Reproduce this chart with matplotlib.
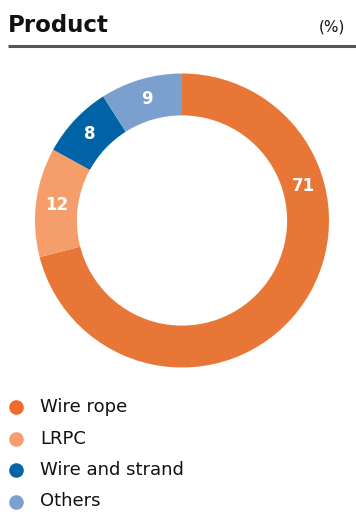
import matplotlib
matplotlib.use("Agg")
import matplotlib.pyplot as plt
import numpy as np

plt.rcParams["font.family"] = ["DejaVu Sans"]

# product mix, % of total
categorias = ["Wire rope", "LRPC", "Wire and strand", "Others"]
valores = [71, 12, 8, 9]
cores_anel = ["#E87737", "#F59E6C", "#0063A6", "#7BA0CE"]
cores_legenda = ["#F26A2E", "#F89D6F", "#0563A8", "#7BA0CE"]

W, H = 356, 514
fig = plt.figure(figsize=(W / 100, H / 100), dpi=100)

# camada em pixels para título, régua e legenda
base = fig.add_axes([0, 0, 1, 1])
base.set_xlim(0, W)
base.set_ylim(H, 0)
base.axis("off")

base.text(8, 32, "Product", fontsize=16.5, fontweight="bold", color="#111111",
          va="baseline", ha="left")
base.text(345, 32, "(%)", fontsize=11, color="#111111", va="baseline", ha="right")
base.plot([8, W], [46, 46], color="#555555", lw=2.2, solid_capstyle="butt")

# anel
cx, cy, R = 182, 220.5, 147
ax = fig.add_axes([(cx - R) / W, (H - cy - R) / H, 2 * R / W, 2 * R / H])
frac_furo = 0.715
wedges, _ = ax.pie(valores, colors=cores_anel, startangle=90, counterclock=False,
                   radius=1, wedgeprops=dict(width=1 - frac_furo, linewidth=0))
ax.set_xlim(-1, 1)
ax.set_ylim(-1, 1)
ax.set_aspect("equal")
ax.axis("off")

# rótulos no meio da faixa; o maior vai deslocado para cima
desloca = {0: 16}
r_rot = (1 + frac_furo) / 2
for i, (w, v) in enumerate(zip(wedges, valores)):
    ang = desloca.get(i, (w.theta1 + w.theta2) / 2)
    x = r_rot * np.cos(np.radians(ang))
    y = r_rot * np.sin(np.radians(ang))
    ax.text(x, y, str(v), color="white", fontsize=12, fontweight="bold",
            ha="center", va="center")

# legenda
y0, passo = 407, 31.5
for k, (nome, cor) in enumerate(zip(categorias, cores_legenda)):
    y = y0 + k * passo
    base.plot(16, y, "o", ms=10.5, color=cor, mec="none")
    base.text(40, y, nome, fontsize=13, color="#111111", va="center", ha="left")

fig.savefig("out.png", dpi=100)
